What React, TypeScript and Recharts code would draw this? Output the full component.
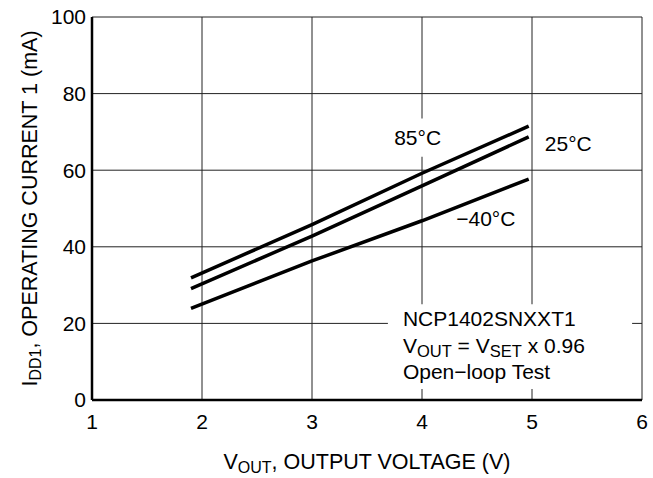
import { LineChart, Line, XAxis, YAxis, CartesianGrid, ReferenceArea, ReferenceDot } from 'recharts';

// values
const voltage = [1.9, 3.0, 4.0, 4.97];
const current85 = [31.9, 45.8, 59.2, 71.5];
const current25 = [29.1, 42.8, 55.9, 68.7];
const currentMinus40 = [23.9, 36.3, 46.8, 57.7];

const xTicks = [1, 2, 3, 4, 5, 6];
const yTicks = [0, 20, 40, 60, 80, 100];

const FONT = '"Liberation Sans", Arial, Helvetica, sans-serif';

const toSeries = (ys: number[]) => voltage.map((v, idx) => ({ v, i: ys[idx] }));

const series = [
  { name: '85°C', data: toSeries(current85) },
  { name: '25°C', data: toSeries(current25) },
  { name: '-40°C', data: toSeries(currentMinus40) },
];

function XTitle(props: any) {
  const { x, y, width } = props.viewBox;
  return (
    <text x={x + width / 2} y={y + 69} textAnchor="middle" fontSize={21.5} fill="#000" fontFamily={FONT}>
      V<tspan fontSize={16} dy={4}>OUT</tspan>
      <tspan dy={-4}>, OUTPUT VOLTAGE (V)</tspan>
    </text>
  );
}

function YTitle(props: any) {
  const { x, y, height } = props.viewBox;
  const cx = x + 37;
  const cy = y + height / 2;
  return (
    <text x={cx} y={cy} transform={`rotate(-90, ${cx}, ${cy})`} textAnchor="middle" fontSize={21.5} fill="#000" fontFamily={FONT}>
      I<tspan fontSize={16} dy={4}>DD1</tspan>
      <tspan dy={-4}>, OPERATING CURRENT 1 (mA)</tspan>
    </text>
  );
}

function NoteBox(props: any) {
  const { x, y } = props.viewBox;
  const tx = x + 15;
  return (
    <g fontSize={21} fill="#000" fontFamily={FONT}>
      <text x={tx} y={y + 22}>NCP1402SNXXT1</text>
      <text x={tx} y={y + 49}>
        V<tspan fontSize={16.5} dy={4}>OUT</tspan>
        <tspan dy={-4}> = V</tspan>
        <tspan fontSize={16.5} dy={4}>SET</tspan>
        <tspan dy={-4}> x 0.96</tspan>
      </text>
      <text x={tx} y={y + 75}>Open−loop Test</text>
    </g>
  );
}

export default function App() {
  return (
    <div style={{ position: 'absolute', left: 0, top: 0, width: 653, height: 478, background: '#fff', fontFamily: FONT }}>
      <LineChart width={653} height={478} margin={{ top: 17, right: 11, bottom: 0, left: 0 }}>
        <CartesianGrid stroke="#222" strokeWidth={1} />
        <XAxis
          type="number"
          dataKey="v"
          domain={[1, 6]}
          ticks={xTicks}
          allowDataOverflow
          height={78}
          axisLine={{ stroke: '#000', strokeWidth: 2.5 }}
          tickLine={false}
          tickSize={8}
          tickMargin={6}
          tick={{ fontSize: 21, fill: '#000', fontFamily: FONT }}
          label={<XTitle />}
        />
        <YAxis
          type="number"
          dataKey="i"
          domain={[0, 100]}
          ticks={yTicks}
          allowDataOverflow
          width={92}
          axisLine={{ stroke: '#000', strokeWidth: 2.5 }}
          tickLine={false}
          tickSize={4}
          tickMargin={2}
          tick={{ fontSize: 21, fill: '#000', fontFamily: FONT }}
          label={<YTitle />}
        />
        {/* white panel holding the test conditions */}
        <ReferenceArea x1={3.69} x2={5.91} y1={2.9} y2={25} fill="#fff" fillOpacity={1} stroke="none" label={<NoteBox />} />
        {/* white background behind the 85°C label */}
        <ReferenceArea
          x1={3.72}
          x2={4.2}
          y1={63.5}
          y2={73.5}
          fill="#fff"
          fillOpacity={1}
          stroke="none"
          label={{ value: '85°C', position: 'center', fontSize: 21, fill: '#000', fontFamily: FONT }}
        />
        <ReferenceDot
          x={5.33}
          y={67}
          r={0}
          fill="none"
          stroke="none"
          label={{ value: '25°C', position: 'center', fontSize: 21, fill: '#000', fontFamily: FONT }}
        />
        <ReferenceDot
          x={4.58}
          y={47.5}
          r={0}
          fill="none"
          stroke="none"
          label={{ value: '−40°C', position: 'center', fontSize: 21, fill: '#000', fontFamily: FONT }}
        />
        {series.map(s => (
          <Line
            key={s.name}
            data={s.data}
            dataKey="i"
            type="linear"
            stroke="#000"
            strokeWidth={3.5}
            dot={false}
            activeDot={false}
            isAnimationActive={false}
          />
        ))}
      </LineChart>
    </div>
  );
}
